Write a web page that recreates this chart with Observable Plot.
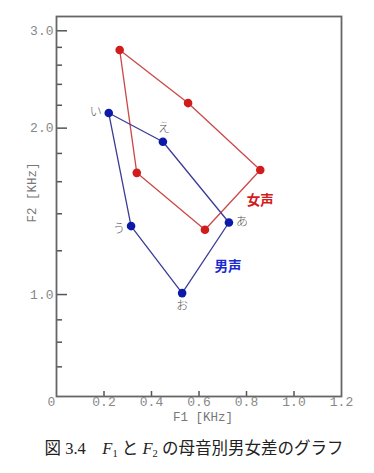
<!DOCTYPE html>
<html><head><meta charset="utf-8">
<script src="https://cdn.jsdelivr.net/npm/d3@7"></script>
<script src="https://cdn.jsdelivr.net/npm/@observablehq/plot@0.6"></script>
<style>
body{margin:0;background:#fff;}
#chart svg{display:block;}
#cap{width:374px;text-align:center;padding-top:8px;padding-left:14px;box-sizing:border-box;line-height:22px;font-size:16.5px;color:#222;font-family:"Liberation Serif","Noto Sans CJK JP",serif;}
#cap i{font-style:italic;}
#cap sub{font-size:10.5px;vertical-align:-3px;line-height:0;}
</style></head><body>
<div id="chart"></div>
<div id="cap">図 3.4&emsp;<i>F</i><sub>1</sub> と <i>F</i><sub>2</sub> の母音別男女差のグラフ</div>
<script>
// vowels in polygon order
const vowels = ["い", "え", "あ", "お", "う"];
const maleF1 = [0.220, 0.448, 0.726, 0.529, 0.314];
const maleF2 = [2.13, 1.89, 1.35, 1.006, 1.33];
const femaleF1 = [0.266, 0.554, 0.858, 0.625, 0.338];
const femaleF2 = [2.77, 2.22, 1.68, 1.31, 1.66];
const seriesNames = ["男声", "女声"];
const xTicks = [0, 0.2, 0.4, 0.6, 0.8, 1.0, 1.2];
const yMajorTicks = [1.0, 2.0, 3.0];
const yMinorTicks = [2.8, 2.6, 2.4, 2.2, 1.8, 1.6, 1.4, 1.2, 0.9, 0.82, 0.74];

const male = vowels.map((v, i) => ({vowel: v, f1: maleF1[i], f2: maleF2[i]}));
const female = vowels.map((v, i) => ({vowel: v, f1: femaleF1[i], f2: femaleF2[i]}));

const labelOffsets = {"い": [-13, -1], "え": [1, -14], "あ": [13, 0], "お": [0, 13], "う": [-12, 3]};
const mono = "'Liberation Mono', 'DejaVu Sans Mono', monospace";
const axisGray = "#555";
const red = "#d21c1c", redLine = "#cc4848";
const blue = "#0c1aa8", blueLine = "#3a3c96";

const vowelLabelMarks = vowels.map(v => Plot.text(male.filter(d => d.vowel === v), {
  x: "f1", y: "f2", text: "vowel", dx: labelOffsets[v][0], dy: labelOffsets[v][1],
  fill: "#555", fontSize: 12, fontFamily: "'Noto Sans CJK JP', sans-serif", fontWeight: 300
}));

const plot = Plot.plot({
  width: 374, height: 430,
  marginLeft: 56, marginRight: 33, marginTop: 16, marginBottom: 34,
  x: {type: "linear", domain: [0, 1.2], axis: null},
  y: {type: "log", domain: [0.654, 3.184], axis: null},
  style: {background: "#fff"},
  marks: [
    Plot.tickX(xTicks.filter(d => d > 0 && d < 1.2), {x: d => d, insetTop: 375, stroke: axisGray, strokeWidth: 1.5}),
    Plot.tickY(yMajorTicks, {y: d => d, insetRight: 274, stroke: axisGray, strokeWidth: 1.5}),
    Plot.tickY(yMinorTicks, {y: d => d, insetRight: 279, stroke: axisGray, strokeWidth: 1.5}),
    Plot.frame({stroke: "#666", strokeWidth: 1.8}),
    Plot.text(yMajorTicks, {y: d => d, text: d => d.toFixed(1), frameAnchor: "left", textAnchor: "end", dx: -3, fill: "#888", fontSize: 13, fontFamily: mono}),
    Plot.text(xTicks.filter(d => d > 0), {x: d => d, text: d => d.toFixed(1), frameAnchor: "bottom", dy: 9, fill: "#888", fontSize: 13, fontFamily: mono}),
    Plot.text(xTicks.filter(d => d === 0), {x: d => d, text: d => String(d), frameAnchor: "bottom", dy: 9, dx: -5, fill: "#888", fontSize: 13, fontFamily: mono}),
    Plot.text(["F1 [KHz]"], {text: d => d, frameAnchor: "bottom", dx: 4, dy: 24, fill: "#777", fontSize: 12.5, fontFamily: mono}),
    Plot.text(["F2 [KHz]"], {text: d => d, frameAnchor: "left", dx: -25, dy: 16, rotate: -90, fill: "#777", fontSize: 12.5, fontFamily: mono}),
    Plot.line(female, {x: "f1", y: "f2", curve: "linear-closed", stroke: redLine, strokeWidth: 1.3}),
    Plot.line(male, {x: "f1", y: "f2", curve: "linear-closed", stroke: blueLine, strokeWidth: 1.3}),
    Plot.dot(female, {x: "f1", y: "f2", r: 4.3, fill: red}),
    Plot.dot(male, {x: "f1", y: "f2", r: 4.3, fill: blue}),
    ...vowelLabelMarks,
    Plot.text(female.filter(d => d.vowel === "あ"), {x: "f1", y: "f2", text: () => seriesNames[1], dy: 31, fill: red, fontSize: 13.5, fontWeight: "bold", fontFamily: "'Noto Sans CJK JP', sans-serif"}),
    Plot.text(male.filter(d => d.vowel === "あ"), {x: "f1", y: "f2", text: () => seriesNames[0], dx: -1, dy: 44, fill: "#1a2ad0", fontSize: 13.5, fontWeight: "bold", fontFamily: "'Noto Sans CJK JP', sans-serif"})
  ]
});
document.getElementById("chart").append(plot);
</script>
</body></html>
